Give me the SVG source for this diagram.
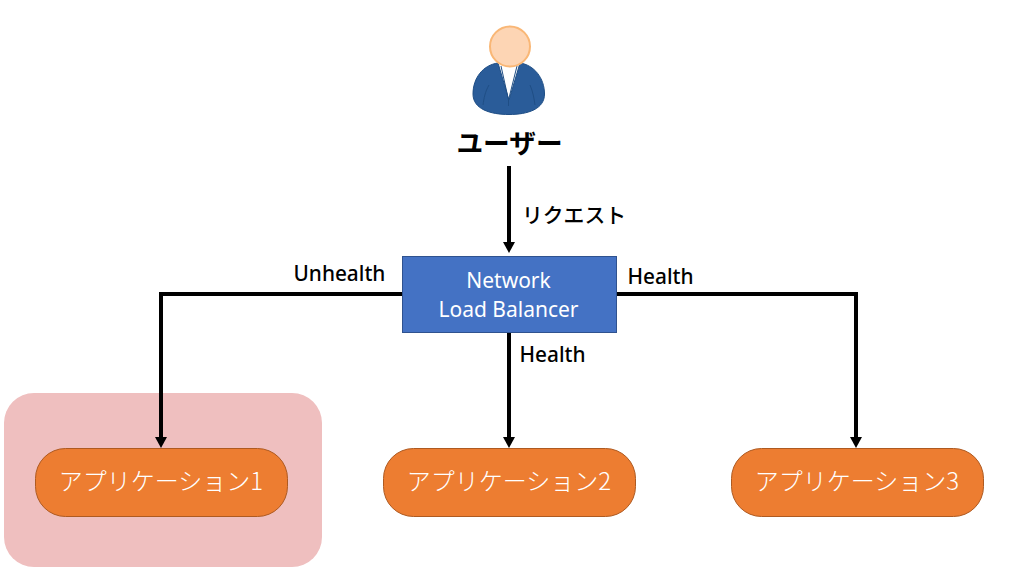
<svg xmlns="http://www.w3.org/2000/svg" width="1016" height="585" viewBox="0 0 1016 585">
<style>
text{font-family:"Noto Sans CJK JP","Noto Sans",sans-serif}
.lat{font-family:"Noto Sans","Noto Sans CJK JP",sans-serif}
.lbl{font-size:20.800px;font-weight:500;fill:#000}
.app{fill:#ed7d31;stroke:#ae5a21;stroke-width:1}
.appt{font-size:24px;font-weight:300;fill:#fff;text-anchor:middle}
.c{fill:none;stroke:#000;stroke-width:4}
.w{font-size:21px;fill:#fff;text-anchor:middle}
</style>
<rect id="highlight" x="4" y="393" width="318" height="174" rx="30" fill="#efbfbf"/>
<g id="connectors">
<path class="c" d="M509 166V244"/>
<path d="M503 242H515L509 253Z"/>
<path class="c" d="M403 294H161V438"/>
<path d="M155 437H167L161 448Z"/>
<path class="c" d="M509 332V438"/>
<path d="M503 437H515L509 448Z"/>
<path class="c" d="M616 294H856V438"/>
<path d="M850 437H862L856 448Z"/>
</g>
<g id="user">
<path d="M498 63C483 65 473 78 473 94C473 109 490 114.500 509 114.500C528 114.500 544.500 109 544.500 94C544.500 78 534 65 520 63L509 100Z" fill="#2a5c99" stroke="#1f4e85" stroke-width="1"/>
<path d="M501 64L517 64L509 98Z" fill="#fff"/>
<path d="M501 66L508.500 100M517 66L508.500 100" fill="none" stroke="#1f4e85" stroke-width="1"/>
<path d="M508.500 100V106M489 85C485 92 484 98 483 105M530 85C533 92 534 98 535 105" fill="none" stroke="#1f4e85" stroke-width="1"/>
<circle cx="510" cy="46.500" r="20" fill="#fdd5b4" stroke="#f9b776" stroke-width="2"/>
<text x="509.500" y="153" font-size="26.700" font-weight="700" text-anchor="middle">ユーザー</text>
</g>
<text class="lbl" x="522" y="223">リクエスト</text>
<g id="nlb">
<rect x="402.500" y="256.500" width="214" height="76" fill="#4472c4" stroke="#2f528f" stroke-width="1"/>
<text class="lat w" x="508.500" y="288">Network</text>
<text class="lat w" x="508.500" y="317">Load Balancer</text>
</g>
<text class="lbl lat" x="293.500" y="281">Unhealth</text>
<text class="lbl lat" x="627.500" y="284">Health</text>
<text class="lbl lat" x="519.500" y="362">Health</text>
<g id="app1"><rect class="app" x="35.500" y="448.500" width="252" height="68" rx="30"/><text class="appt" x="161" y="490">アプリケーション1</text></g>
<g id="app2"><rect class="app" x="383.500" y="448.500" width="252" height="68" rx="30"/><text class="appt" x="509" y="490">アプリケーション2</text></g>
<g id="app3"><rect class="app" x="731.500" y="448.500" width="252" height="68" rx="30"/><text class="appt" x="857" y="490">アプリケーション3</text></g>
</svg>
